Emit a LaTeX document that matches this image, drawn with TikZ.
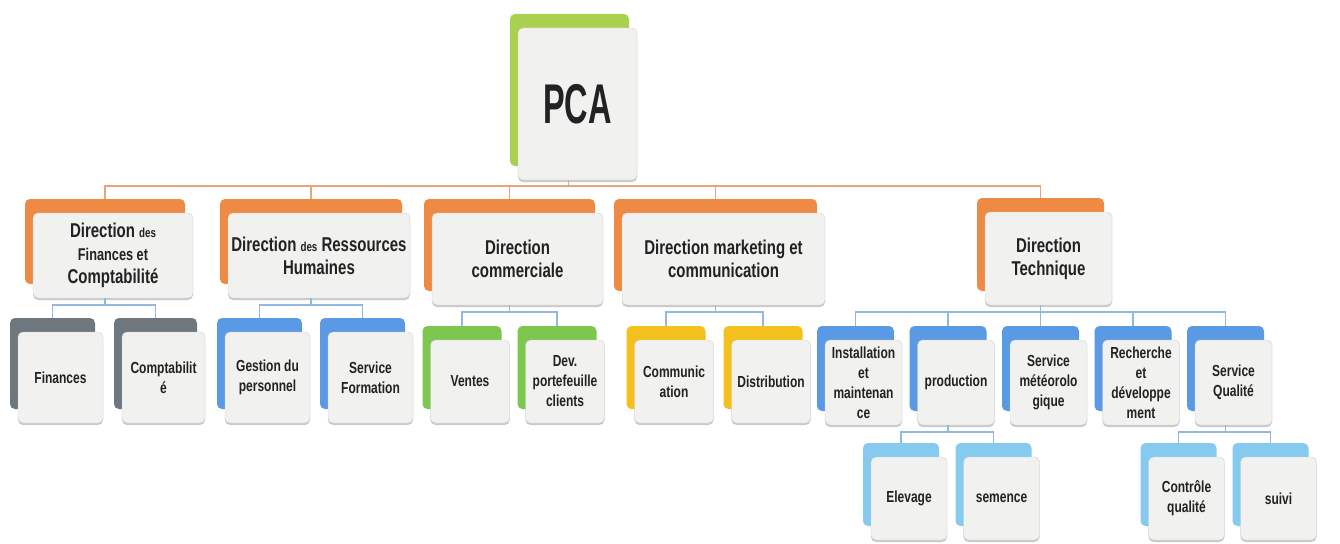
\documentclass[tikz,border=0pt]{standalone}
\usepackage{fontspec}
\setmainfont{Liberation Sans}[FakeStretch=0.75]
\newfontfamily\pcafont{Liberation Sans}[FakeStretch=0.58]
\usetikzlibrary{shadows}
\definecolor{boxfill}{HTML}{F1F1EF}
\definecolor{boxline}{HTML}{D0D0D0}
\definecolor{txt}{HTML}{222222}
\definecolor{orgback}{HTML}{EE8A43}
\definecolor{pcaback}{HTML}{A9D04E}
\definecolor{grayback}{HTML}{6E767E}
\definecolor{blueback}{HTML}{5A9AE4}
\definecolor{greenback}{HTML}{7DC74E}
\definecolor{goldback}{HTML}{F3C01C}
\definecolor{cyanback}{HTML}{86CBEF}
\definecolor{orgline}{HTML}{E8A57C}
\definecolor{blueline}{HTML}{93B8DE}
\begin{document}
\begin{tikzpicture}[x=1pt, y=-1pt,
  box/.style={draw=boxline, fill=boxfill, rounded corners=5pt, align=center, inner sep=2pt,
    text=txt, font=\bfseries\fontsize{16}{20}\selectfont,
    drop shadow={shadow xshift=0pt, shadow yshift=-2pt, opacity=.35, fill=black!60}},
  backcol/.style={general shadow={shadow xshift=-8pt, shadow yshift=14pt, fill=#1}},
  dirbox/.style={box, backcol=orgback, font=\bfseries\fontsize{20}{23}\selectfont},
  toplink/.style={draw=orgline, line width=1.5pt},
  sublink/.style={draw=blueline, line width=1.5pt}]
  \fill[white] (0,0) rectangle (1340,543);
  \node[box, backcol=pcaback, minimum width=119pt, minimum height=152pt,
    font=\pcafont\bfseries\fontsize{56}{60}\selectfont] (pca) at (577.5,104) {PCA};
  \node[dirbox, minimum width=160pt, minimum height=85pt] (d1) at (113,255.5)
    {Direction {\fontsize{13}{15}\selectfont des}\\{\fontsize{17}{22}\selectfont Finances et}\\Comptabilité};
  \node[dirbox, minimum width=182pt, minimum height=85pt] (d2) at (319,255.5)
    {Direction {\fontsize{13}{15}\selectfont des} Ressources\\Humaines};
  \node[dirbox, minimum width=171pt, minimum height=92pt] (d3) at (517.5,259) {Direction\\commerciale};
  \node[dirbox, minimum width=203pt, minimum height=92pt] (d4) at (723.5,259) {Direction marketing et\\communication};
  \node[dirbox, minimum width=127pt, minimum height=93pt] (d5) at (1048.5,258.5) {Direction\\Technique};
  \foreach \nm/\x/\w/\c/\t in {fin/60.5/85/grayback/Finances, cpt/163.5/83/grayback/{Comptabilit\\é},
      ges/267.5/85/blueback/{Gestion du\\personnel}, frm/370.5/85/blueback/{Service\\Formation}}
    \node[box, backcol=\c, minimum width=\w pt, minimum height=91pt] (\nm) at (\x,377.5) {\t};
  \foreach \nm/\x/\c/\t in {ven/470/greenback/Ventes, dev/565/greenback/{Dev.\\portefeuille\\clients},
      com/674/goldback/{Communic\\ation}, dis/771/goldback/Distribution}
    \node[box, backcol=\c, minimum width=79pt, minimum height=83pt] (\nm) at (\x,381.5) {\t};
  \foreach \nm/\x/\t in {ins/863.5/{Installation\\et\\maintenan\\ce}, prd/956/production,
      met/1048.5/{Service\\météorolo\\gique}, rec/1141/{Recherche\\et\\développe\\ment},
      qua/1233.5/{Service\\Qualité}}
    \node[box, backcol=blueback, minimum width=77pt, minimum height=85pt] (\nm) at (\x,382.5) {\t};
  \foreach \nm/\x/\t in {ele/909/Elevage, sem/1001.5/semence, ctl/1186.5/{Contrôle\\qualité}, sui/1278.5/suivi}
    \node[box, backcol=cyanback, minimum width=76pt, minimum height=83pt] (\nm) at (\x,498.5) {\t};
  \foreach \c in {d1,d2,d3,d4,d5}
    \draw[toplink] ([xshift=-9pt]pca.south) -- ++(0,6) -| ([xshift=-8pt,yshift=14pt]\c.north);
  \foreach \p/\c in {d1/fin, d1/cpt, d2/ges, d2/frm, d3/ven, d3/dev, d4/com, d4/dis,
      d5/ins, d5/prd, d5/met, d5/rec, d5/qua, prd/ele, prd/sem, qua/ctl, qua/sui}
    \draw[sublink] ([xshift=-8pt]\p.south) -- ++(0,7) -| ([xshift=-8pt,yshift=14pt]\c.north);
\end{tikzpicture}
\end{document}
